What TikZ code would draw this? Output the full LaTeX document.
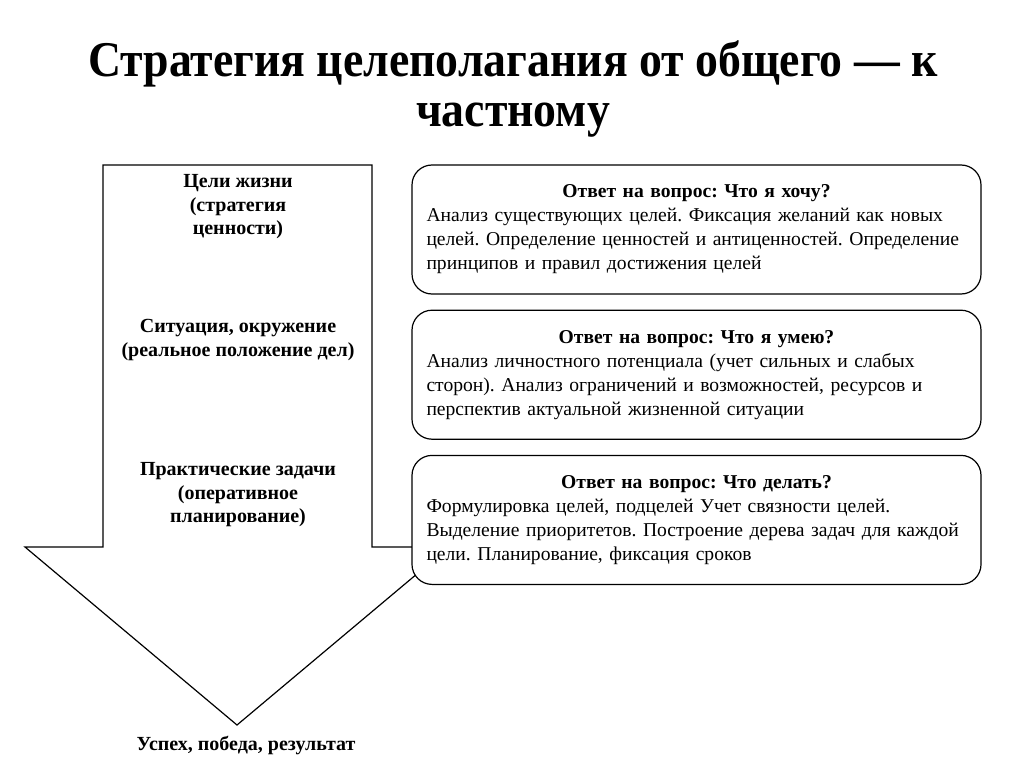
\documentclass[tikz,border=0pt]{standalone}
\usepackage{fontspec}
\setmainfont{Liberation Serif}
\newfontfamily\titlefont[FakeStretch=0.915]{Liberation Serif}
\usetikzlibrary{positioning}
\frenchspacing
\tikzstyle{answer} = [draw, rectangle, rounded corners=20pt, fill=white, line width=1.2pt, minimum width=569pt, minimum height=129pt, text width=540pt, inner xsep=14.5pt, align=left, font=\fontsize{19.6}{24}\selectfont]
\tikzstyle{stage} = [align=center, font=\fontsize{20}{23.5}\selectfont\bfseries]
\tikzstyle{heading} = [anchor=base, font=\titlefont\fontsize{50}{50}\selectfont\bfseries]
\tikzstyle{bigarrow} = [draw, line width=1.2pt, line join=miter]

\begin{document}
\begin{tikzpicture}[x=1pt, y=-1pt]
	\useasboundingbox (0,0) rectangle (1024,767);
	\node [heading] (title1) at (513,77) {Стратегия целеполагания от общего — к};
	\node [heading] (title2) at (513,127) {частному};

	\path [bigarrow] (103,165) -- (372,165) -- (372,547) -- (449,547) -- (237,725) -- (25,547) -- (103,547) -- cycle;

	\node [stage] (goals) at (238,207) {Цели жизни\\(стратегия\\ценности)};
	\node [stage] (situation) at (238,340) {Ситуация, окружение\\(реальное положение дел)};
	\node [stage] (tasks) at (238,495) {Практические задачи\\(оперативное\\планирование)};
	\node [stage] (result) at (246,745) {Успех, победа, результат};

	\node [answer] (want) at (696.5,229.5) {{\centering\bfseries Ответ на вопрос: Что я хочу?\par}\raggedright Анализ существующих целей. Фиксация желаний как новых\\целей. Определение ценностей и антиценностей. Определение\\принципов и правил достижения целей};
	\node [answer, below=15pt of want] (can) {{\centering\bfseries Ответ на вопрос: Что я умею?\par}\raggedright Анализ личностного потенциала (учет сильных и слабых\\сторон). Анализ ограничений и возможностей, ресурсов и\\перспектив актуальной жизненной ситуации};
	\node [answer, below=15pt of can] (todo) {{\centering\bfseries Ответ на вопрос: Что делать?\par}\raggedright Формулировка целей, подцелей Учет связности целей.\\Выделение приоритетов. Построение дерева задач для каждой\\цели. Планирование, фиксация сроков};
\end{tikzpicture}
\end{document}
